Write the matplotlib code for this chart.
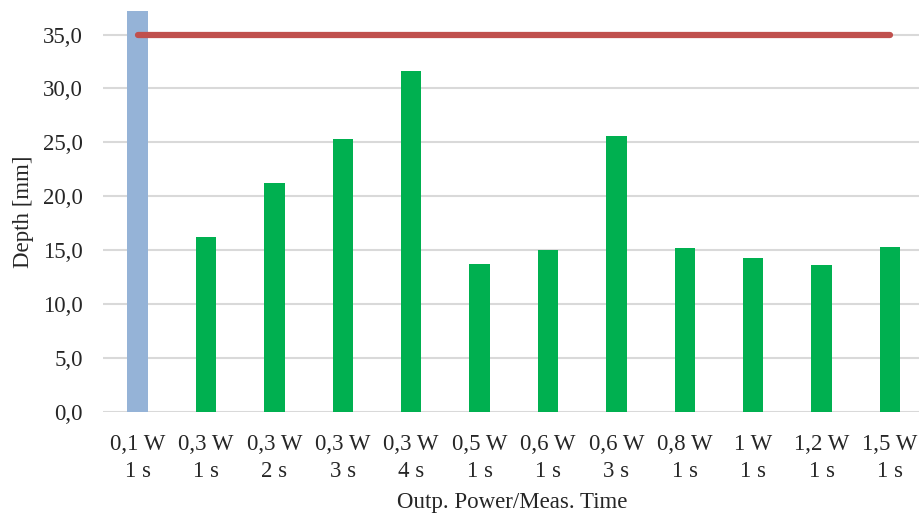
import numpy as np
import matplotlib.pyplot as plt

plt.rcParams['font.family'] = ['Liberation Serif', 'DejaVu Serif']

labels = ["0,1 W\n1 s", "0,3 W\n1 s", "0,3 W\n2 s", "0,3 W\n3 s", "0,3 W\n4 s",
          "0,5 W\n1 s", "0,6 W\n1 s", "0,6 W\n3 s", "0,8 W\n1 s", "1 W\n1 s",
          "1,2 W\n1 s", "1,5 W\n1 s"]
depth = [37.2, 16.2, 21.2, 25.3, 31.6, 13.7, 15.0, 25.6, 15.2, 14.3, 13.6, 15.3]
limit = 35.0

colors = ["#95B3D7"] + ["#00B050"] * (len(depth) - 1)
x = np.arange(len(depth))

fig = plt.figure(figsize=(9.2, 5.15), dpi=100)
ax = fig.add_axes([0.1125, 0.2, 0.8875, 0.779])

ax.bar(x, depth, width=0.3, color=colors, zorder=2)
ax.plot([x[0], x[-1]], [limit, limit], color="#C0504D", lw=4.5,
        solid_capstyle="round", zorder=3)

ax.set_xlim(-0.5, 11.44)
ax.set_ylim(0, 37.2)
ax.set_yticks(np.arange(0, 36, 5))
ax.set_yticklabels([f"{v:.1f}".replace(".", ",") for v in np.arange(0, 36, 5)])
ax.set_xticks(x)
ax.set_xticklabels(labels, linespacing=1.35)

ax.grid(axis="y", color="#D9D9D9", lw=1.5, zorder=0)
for s in ax.spines.values():
    s.set_visible(False)
ax.tick_params(length=0, labelsize=16.5, colors="#262626")
ax.tick_params(axis="y", pad=15)
ax.tick_params(axis="x", pad=16)

ax.set_ylabel("Depth [mm]", fontsize=16.5, color="#262626", labelpad=6)
ax.set_xlabel("Outp. Power/Meas. Time", fontsize=16.5, color="#262626", labelpad=7.5)

fig.savefig("out.png", dpi=100)
